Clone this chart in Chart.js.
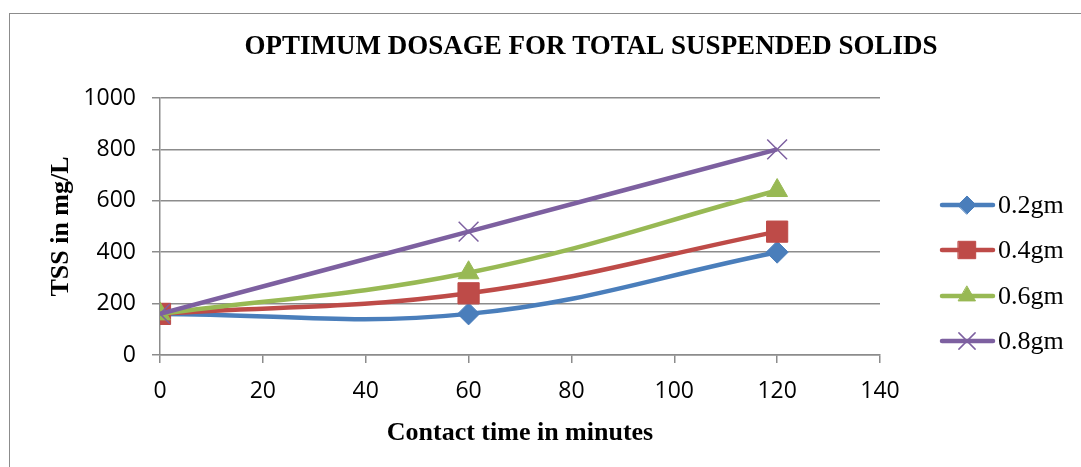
<!DOCTYPE html>
<html>
<head>
<meta charset="utf-8">
<script src="https://cdn.jsdelivr.net/npm/chart.js@4"></script>
<style>
  html, body { margin: 0; padding: 0; background: #fff; overflow: hidden; }
  #wrap { position: relative; width: 1081px; height: 467px; }
  #frame { position: absolute; left: 9px; top: 13px; width: 1200px; height: 600px; border: 1.5px solid #8c8c8c; }
  canvas { position: absolute; left: 0; top: 0; }
</style>
</head>
<body>
<div id="wrap">
  <div id="frame"></div>
  <canvas id="grafico" width="1081" height="467"></canvas>
</div>
<script>
const minutos = [0, 60, 120];
const dosis = ["0.2gm", "0.4gm", "0.6gm", "0.8gm"];
const tss02 = [160, 160, 400];
const tss04 = [160, 240, 480];
const tss06 = [160, 320, 640];
const tss08 = [160, 480, 800];
const xTicks = [0, 20, 40, 60, 80, 100, 120, 140];
const yTicks = [0, 200, 400, 600, 800, 1000];

const titulo = "OPTIMUM DOSAGE FOR TOTAL SUSPENDED SOLIDS";
const gris = "#8c8c8c";
const serif = '"Liberation Serif", "Times New Roman", serif';

const puntos = (vals) => vals.map((v, i) => ({ x: minutos[i], y: v }));

const serie = (label, vals, color, estilo, radio, orden) => ({
  label: label,
  data: puntos(vals),
  borderColor: color,
  backgroundColor: color,
  borderWidth: 4.5,
  tension: 0.4,
  pointStyle: estilo,
  pointRadius: radio,
  pointBorderWidth: estilo === "crossRot" ? 1.5 : 1,
  pointBackgroundColor: color,
  pointBorderColor: color,
  order: orden,
});

const datasets = [
  serie(dosis[0], tss02, "#4a7ebb", "rectRot", 11, 4),
  serie(dosis[1], tss04, "#be4b48", "rect", 15, 3),
  serie(dosis[2], tss06, "#98b954", "triangle", 12, 2),
  serie(dosis[3], tss08, "#7d60a0", "crossRot", 14, 1),
];

// title + legend drawn Excel style (line with marker)
const extras = {
  id: "extras",
  afterDraw(chart) {
    const ctx = chart.ctx;
    ctx.save();
    ctx.fillStyle = "#000";
    ctx.font = "bold 27px " + serif;
    ctx.textAlign = "center";
    ctx.textBaseline = "middle";
    ctx.fillText(titulo, 591, 47);

    const filas = [205, 250, 296, 341];
    chart.data.datasets.forEach((ds, i) => {
      const y = filas[i];
      ctx.strokeStyle = ds.borderColor;
      ctx.lineWidth = 4.5;
      ctx.lineCap = "round";
      ctx.beginPath();
      ctx.moveTo(942, y);
      ctx.lineTo(993, y);
      ctx.stroke();
      ctx.fillStyle = ds.backgroundColor;
      ctx.lineWidth = ds.pointBorderWidth;
      Chart.helpers.drawPoint(ctx, {
        pointStyle: ds.pointStyle,
        radius: ds.pointRadius * 0.82,
        rotation: 0,
        borderWidth: ds.pointBorderWidth,
      }, 967, y);
      ctx.fillStyle = "#000";
      ctx.font = "26px " + serif;
      ctx.textAlign = "left";
      ctx.textBaseline = "middle";
      ctx.fillText(ds.label, 998, y + 1);
    });
    ctx.restore();
  },
};

const tickFont = { family: '"Open Sans", sans-serif', size: 23 };

new Chart(document.getElementById("grafico"), {
  type: "line",
  data: { datasets: datasets },
  options: {
    responsive: false,
    animation: false,
    layout: { padding: { top: 98, right: 201, left: 0, bottom: 0 } },
    plugins: { legend: { display: false }, title: { display: false }, tooltip: { enabled: false } },
    scales: {
      x: {
        type: "linear",
        min: 0,
        max: 140,
        afterFit: (s) => { s.height = 112; },
        afterBuildTicks: (s) => { s.ticks = xTicks.map((v) => ({ value: v })); },
        ticks: { color: "#000", font: tickFont, padding: 15, maxRotation: 0, callback: (v) => String(v) },
        grid: { drawOnChartArea: false, drawTicks: true, tickLength: 8, color: gris, lineWidth: 1.5 },
        border: { display: true, color: gris, width: 1.5 },
        title: {
          display: true,
          text: "Contact time in minutes",
          color: "#000",
          font: { family: serif, size: 26, weight: "bold" },
          padding: { top: 0, bottom: 18 },
        },
      },
      y: {
        min: 0,
        max: 1000,
        afterFit: (s) => { s.width = 160; },
        afterBuildTicks: (s) => { s.ticks = yTicks.map((v) => ({ value: v })); },
        ticks: { color: "#000", font: tickFont, padding: 16, callback: (v) => String(v) },
        grid: { color: gris, lineWidth: 1.5, tickLength: 8 },
        border: { display: true, color: gris, width: 1.5 },
        title: {
          display: true,
          text: "TSS in mg/L",
          color: "#000",
          font: { family: serif, size: 26, weight: "bold" },
          padding: { top: 46, bottom: 0 },
        },
      },
    },
  },
  plugins: [extras],
});
</script>
</body>
</html>
